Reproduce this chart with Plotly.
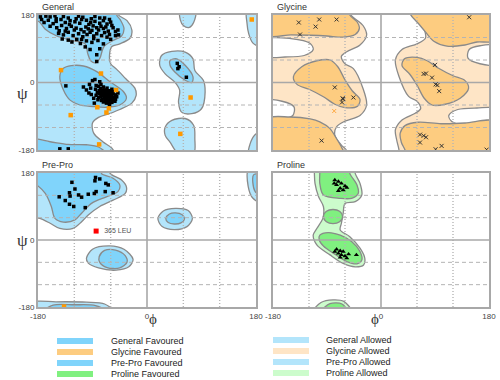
import plotly.graph_objects as go

# ---------------- data ----------------
TICKS = [-180, 0, 180]
GRID = [-120, -60, 60, 120]
PANEL_TITLES = ["General", "Glycine", "Pre-Pro", "Proline"]
LEG_LEFT = ["General Favoured", "Glycine Favoured", "Pre-Pro Favoured", "Proline Favoured"]
LEG_RIGHT = ["General Allowed", "Glycine Allowed", "Pre-Pro Allowed", "Proline Allowed"]

# General contours (phi, psi)
GEN_ALLOW_MAIN = [(-190, 190), (-47, 190), (-47, 180), (-33, 165), (-25, 140), (-28, 118), (-45, 103), (-58, 96),
                  (-62, 70), (-60, 50), (-50, 35), (-35, 10), (-20, -15), (-18, -35), (-25, -55), (-45, -72),
                  (-62, -83), (-80, -93), (-90, -108), (-88, -135), (-73, -158), (-58, -175), (-54, -190), (-190, -190)]
GEN_ALLOW_LA = [(24, 72), (41, 83), (63, 81), (76, 63), (79, 32), (93, 6), (96, -25), (90, -70), (74, -83),
                (57, -79), (52, -52), (54, -21), (46, 1), (30, 23), (21, 46)]
GEN_ALLOW_TOPMID = [(55, 190), (80, 190), (77, 160), (70, 147), (60, 152), (55, 167)]
GEN_ALLOW_BOTMID = [(30, -119), (41, -101), (63, -96), (77, -114), (79, -150), (77, -190), (52, -190), (38, -159), (30, -141)]
GEN_ALLOW_RTOP = [(165, 190), (190, 190), (190, 95), (175, 105), (168, 130), (165, 160)]
GEN_ALLOW_RBOT = [(168, -190), (190, -190), (190, -130), (178, -140), (170, -165)]
GEN_FAV_BETA = [(-190, 190), (-50, 190), (-50, 180), (-44, 167), (-38, 144), (-42, 124), (-56, 112), (-71, 96),
                (-78, 64), (-84, 53), (-93, 58), (-98, 78), (-102, 103), (-124, 112), (-149, 124), (-168, 142),
                (-178, 162), (-190, 170)]
GEN_FAV_BOT = [(-190, -190), (-190, -152), (-160, -158), (-130, -165), (-100, -166), (-80, -172), (-68, -190)]
GEN_FAV_ALPHA = [(-144, 16), (-138, 38), (-125, 45), (-105, 44), (-83, 29), (-61, 2), (-39, -24), (-34, -42),
                 (-45, -60), (-67, -66), (-89, -64), (-111, -60), (-127, -47), (-138, -20)]
GEN_FAV_LA = [(38, 59), (49, 63), (63, 46), (76, 15), (74, 0), (63, 6), (46, 28), (38, 46)]

# Glycine contours
GLY_WHITE_CENTER = [(-50, 190), (-50, 180), (-30, 152), (-24, 126), (-35, 100), (-57, 82), (-66, 70), (-60, 50),
                    (-46, 37), (-30, -16), (-24, -60), (-35, -88), (-60, -103), (-74, -118), (-77, -141),
                    (-66, -167), (-58, -180), (-58, -190),
                    (30, -190), (30, -180), (26, -152), (24, -126), (35, -100), (57, -82), (66, -70), (60, -50),
                    (46, -37), (30, 16), (24, 60), (35, 88), (60, 103), (74, 118), (72, 141), (60, 167),
                    (50, 180), (50, 190)]
GLY_WHITE_LA = [(-190, 115), (-150, 117), (-118, 104), (-113, 88), (-128, 72), (-160, 68), (-190, 70)]
GLY_WHITE_RA = [(190, -115), (150, -117), (118, -104), (113, -88), (128, -72), (160, -68), (190, -70)]
GLY_WHITE_LB = [(-190, -48), (-165, -50), (-145, -65), (-147, -88), (-165, -98), (-190, -98)]
GLY_WHITE_RB = [(190, 48), (165, 50), (145, 65), (147, 88), (165, 98), (190, 98)]
GLY_FAV_TL = [(-190, 190), (-52, 190), (-52, 180), (-40, 162), (-36, 145), (-43, 128), (-63, 121), (-90, 124),
              (-118, 126), (-150, 127), (-190, 126)]
GLY_FAV_TR = [(50, 190), (50, 180), (62, 158), (74, 135), (88, 110), (110, 97), (140, 100), (160, 108),
              (190, 112), (190, 190)]
GLY_FAV_BL = [(-190, -97), (-152, -92), (-118, -97), (-102, -105), (-85, -123), (-74, -150), (-66, -172),
              (-62, -190), (-190, -190)]
GLY_FAV_BR = [(190, -190), (40, -190), (40, -180), (34, -160), (32, -135), (40, -115), (62, -106), (100, -110),
              (140, -108), (190, -104)]
GLY_FAV_AR = [(-146, 15), (-132, 42), (-107, 58), (-85, 60), (-72, 42), (-60, 7), (-48, -22), (-35, -45),
              (-39, -63), (-60, -67), (-77, -58), (-96, -38), (-120, -18), (-140, -5)]
GLY_FAV_AL = [(146, -15), (132, -42), (107, -58), (85, -60), (72, -42), (60, -7), (48, 22), (35, 45), (39, 63),
              (60, 67), (77, 58), (96, 38), (120, 18), (140, 5)]

# Pre-Pro contours
PP_ALLOW_BETA = [(-190, 190), (-61, 190), (-61, 179), (-42, 161), (-34, 143), (-36, 125), (-56, 107), (-78, 90),
                 (-97, 67), (-108, 49), (-122, 31), (-144, 31), (-160, 45), (-177, 58), (-190, 62)]
PP_FAV_BETA = [(-190, 190), (-75, 190), (-75, 178), (-56, 166), (-45, 148), (-48, 130), (-67, 116), (-91, 99),
               (-108, 72), (-119, 54), (-138, 48), (-152, 58), (-158, 90), (-168, 125), (-180, 145), (-190, 155)]
PP_ALLOW_ALPHA = [(-100, -49), (-90, -25), (-62, -16), (-38, -25), (-23, -52), (-30, -72), (-51, -81), (-80, -75),
                  (-97, -62)]
PP_FAV_ALPHA = [(-79, -45), (-70, -28), (-52, -27), (-36, -42), (-33, -60), (-45, -75), (-66, -74), (-78, -60)]
PP_ALLOW_LA = [(18, 58), (27, 78), (47, 85), (68, 79), (75, 58), (66, 36), (45, 28), (25, 36)]
PP_FAV_LA = [(31, 58), (37, 70), (47, 73), (58, 68), (62, 58), (56, 46), (45, 43), (35, 47)]
PP_ALLOW_BOT = [(-190, -190), (-190, -168), (-150, -166), (-100, -167), (-70, -172), (-56, -190)]
PP_FAV_BOT = [(-170, -190), (-155, -175), (-120, -174), (-85, -176), (-68, -190)]
PP_ALLOW_RIGHT = [(168, 190), (190, 190), (190, 100), (175, 112), (167, 145)]
PP_FAV_RIGHT = [(176, 175), (190, 175), (190, 118), (178, 132)]

# Proline contours
PRO_ALLOW = [(-111, 190), (-43, 190), (-43, 179), (-35, 152), (-32, 121), (-43, 103), (-60, 98), (-63, 72),
             (-66, 45), (-68, 27), (-52, 9), (-35, -22), (-27, -49), (-29, -67), (-43, -72), (-63, -63),
             (-85, -40), (-107, -13), (-113, 13), (-107, 31), (-97, 58), (-96, 90), (-104, 116), (-110, 152),
             (-111, 179)]
PRO_ALLOW_BOT = [(-112, -190), (-100, -168), (-80, -161), (-62, -165), (-50, -190)]
PRO_FAV_TOP = [(-102, 190), (-52, 190), (-52, 179), (-40, 148), (-38, 125), (-49, 112), (-68, 112), (-96, 121),
               (-102, 152), (-102, 179)]
PRO_FAV_MID = [(-96, 63), (-91, 77), (-80, 82), (-69, 77), (-64, 63), (-69, 49), (-80, 44), (-91, 49)]
PRO_FAV_ALPHA = [(-102, 13), (-88, 20), (-68, 13), (-49, -4), (-35, -31), (-32, -54), (-40, -64), (-57, -58),
                 (-79, -36), (-96, -16), (-103, 0)]
PRO_FAV_BOT = [(-98, -190), (-85, -171), (-65, -172), (-57, -190)]

# Residue points (phi, psi)
GEN_POINTS = [
    (-167, 177), (-160, 175), (-152, 178), (-138, 176), (-113, 177), (-106, 174), (-86, 176), (-78, 172),
    (-174, 168), (-163, 166), (-150, 163), (-142, 168), (-135, 160), (-127, 165), (-119, 162), (-111, 158),
    (-100, 166), (-93, 160), (-86, 163), (-78, 158), (-72, 165), (-66, 156), (-60, 161),
    (-160, 150), (-149, 146), (-141, 152), (-133, 144), (-125, 150), (-117, 145), (-109, 141), (-101, 148),
    (-97, 143), (-91, 139), (-89, 151), (-83, 146), (-80, 140), (-72, 144), (-64, 137), (-56, 146), (-52, 136),
    (-58, 152), (-146, 131), (-138, 127), (-130, 134), (-122, 125), (-113, 130), (-106, 122), (-99, 128),
    (-94, 134), (-88, 124), (-83, 130), (-75, 125), (-70, 133), (-66, 121), (-47, 127), (-62, 128),
    (-130, 113), (-124, 108), (-116, 115), (-100, 111), (-91, 107), (-81, 112), (-72, 103), (-110, 104),
    (-102, 95), (-94, 88), (-78, 90), (-83, 74), (-83, 56),
    (-120, 140), (-128, 155), (-104, 135), (-96, 155), (-76, 150), (-68, 148), (-145, 138), (-155, 157),
    (-117, 170), (-108, 168), (-92, 170), (-70, 172), (-62, 168), (-135, 137), (-140, 116), (-88, 117),
    (-108, 115), (-60, 115), (-52, 125), (-48, 140), (-170, 160), (-176, 175), (-150, 170), (-130, 172),
    (-80, -10), (-76, -5), (-72, -12), (-85, -18), (-70, -20), (-66, -15), (-62, -22), (-58, -18), (-75, -25),
    (-68, -28), (-64, -30), (-60, -27), (-56, -30), (-52, -33), (-78, -30), (-72, -34), (-66, -36), (-62, -38),
    (-58, -35), (-54, -40), (-50, -38), (-70, -40), (-74, -44), (-66, -44), (-60, -46), (-56, -48), (-52, -45),
    (-63, -50), (-58, -53), (-68, -50), (-72, -52), (-80, -40), (-84, -34), (-76, -38), (-70, -32), (-64, -25),
    (-57, -24), (-61, -42), (-67, -40), (-73, -20), (-79, -22), (-65, -33), (-69, -45), (-55, -44), (-62, -56),
    (-75, -48), (-60, -32), (-66, -22), (-71, -26), (-77, -16), (-82, -27), (-58, -42), (-53, -50), (-64, -47),
    (-67, -55), (-59, -38), (-63, -35), (-69, -36), (-74, -31), (-81, -46),
    (-90, 5), (-86, 8), (-95, -5), (-100, -20), (-92, -32), (-88, -42), (-134, -9), (-105, -12), (-93, -15),
    (-78, 2), (-87, -55), (-62, -60), (-48, -28), (-84, -8), (-96, -28),
    (50, 51), (53, 42), (51, 37), (65, 14), (-144, -177), (-130, -177)]
GEN_OUTLIERS = [(-142, 33), (-76, 24), (-51, -20), (-82, -66), (-63, -69), (-67, -80), (-126, -87),
                (-79, -165), (72, -40), (55, -137), (173, 168)]
GLY_POINTS = [(-137, 160), (-103, 168), (-74, 168), (-109, 149), (-135, 128), (147, 174), (-77, -13),
              (-64, -42), (-63, -44), (-46, -40), (-65, -53), (-99, -155), (90, 47), (71, 23), (75, 24),
              (85, 13), (91, -5), (94, -7), (97, -23), (65, -139), (71, -142), (75, -146), (65, -160),
              (101, -169), (91, -178), (176, -179)]
GLY_OUTLIERS = [(-78, -76)]
PP_POINTS = [(-85, 168), (-78, 164), (-86, 159), (-124, 155), (-68, 152), (-64, 148), (-119, 137), (-128, 127),
             (-69, 130), (-56, 127), (-84, 130), (-87, 125), (-97, 123), (-113, 121), (-127, 118), (-145, 116),
             (-108, 115), (-135, 106), (-128, 96), (-121, 90), (-102, 87)]
PP_OUTLIER_RED = [(-84, 24)]
PP_OUTLIER_RED_LABEL = ["365 LEU"]
PP_OUTLIERS = [(-137, -179)]
PRO_POINTS = [(-77, 161), (-71, 157), (-66, 152), (-74, 148), (-60, 145), (-68, 139), (-63, 134), (-71, 132),
              (-78, 152), (-57, 141), (-74, -25), (-68, -29), (-63, -31), (-71, -36), (-66, -40), (-60, -43),
              (-54, -38), (-77, -31), (-68, -47), (-41, -40), (-57, -49)]

# ---------------- styles ----------------
W, H = 500, 380
GEN_FAV, GEN_ALW = "#80d4fb", "#b3e5fb"
GLY_FAV, GLY_ALW = "#fdcc80", "#fee5c6"
PRO_FAV, PRO_ALW = "#80f080", "#ccfccc"
OUTLINE = "#8a8a8a"
GRIDC = "#b4b4b4"
FONT = "Liberation Sans"
PANELS = [(38, 256, 15, 150), (273, 489, 15, 150), (38, 256, 173, 307), (273, 489, 173, 307)]

fig = go.Figure()


def axn(i):
    return ("x" if i == 1 else f"x{i}"), ("y" if i == 1 else f"y{i}")


def region(i, pts, fill, outline=True, shape="spline"):
    xa, ya = axn(i)
    xs = [p[0] for p in pts] + [pts[0][0]]
    ys = [p[1] for p in pts] + [pts[0][1]]
    fig.add_trace(go.Scatter(
        x=xs, y=ys, mode="lines", fill="toself", fillcolor=fill,
        line=dict(color=OUTLINE if outline else "rgba(0,0,0,0)", width=1.3, shape=shape, smoothing=0.9),
        xaxis=xa, yaxis=ya, hoverinfo="skip", showlegend=False))


def grid(i):
    xa, ya = axn(i)
    vx, vy, hx, hy = [], [], [], []
    for g in GRID:
        vx += [g, g, None]
        vy += [-180, 180, None]
        hx += [-180, 180, None]
        hy += [g, g, None]
    fig.add_trace(go.Scatter(x=vx, y=vy, mode="lines", line=dict(color=GRIDC, width=1.4, dash="1px,2px"),
                             xaxis=xa, yaxis=ya, hoverinfo="skip", showlegend=False))
    fig.add_trace(go.Scatter(x=hx, y=hy, mode="lines", line=dict(color=GRIDC, width=1, dash="4px,3px"),
                             xaxis=xa, yaxis=ya, hoverinfo="skip", showlegend=False))
    fig.add_trace(go.Scatter(x=[0, 0, None, -180, 180], y=[-180, 180, None, 0, 0], mode="lines",
                             line=dict(color="#a8a8a8", width=1.6),
                             xaxis=xa, yaxis=ya, hoverinfo="skip", showlegend=False))


def points(i, pts, color, symbol="square", size=3.5, lw=0, text=None):
    xa, ya = axn(i)
    fig.add_trace(go.Scatter(
        x=[p[0] for p in pts], y=[p[1] for p in pts],
        mode="markers+text" if text else "markers", text=text, textposition="middle right",
        textfont=dict(size=7, color="#555", family=FONT),
        marker=dict(symbol=symbol, size=size, color=color, line=dict(width=lw, color=color)),
        xaxis=xa, yaxis=ya, hoverinfo="skip", showlegend=False, cliponaxis=False))


# General
for r in [GEN_ALLOW_MAIN, GEN_ALLOW_LA, GEN_ALLOW_TOPMID, GEN_ALLOW_BOTMID, GEN_ALLOW_RTOP, GEN_ALLOW_RBOT]:
    region(1, r, GEN_ALW)
for r in [GEN_FAV_BETA, GEN_FAV_BOT, GEN_FAV_ALPHA, GEN_FAV_LA]:
    region(1, r, GEN_FAV)
grid(1)
points(1, GEN_POINTS, "black", size=3.5)
points(1, GEN_OUTLIERS, "#ff9900", size=4.5)

# Glycine
region(2, [(-190, -190), (190, -190), (190, 190), (-190, 190)], GLY_ALW, outline=False, shape="linear")
for r in [GLY_WHITE_CENTER, GLY_WHITE_LA, GLY_WHITE_RA, GLY_WHITE_LB, GLY_WHITE_RB]:
    region(2, r, "white")
for r in [GLY_FAV_TL, GLY_FAV_TR, GLY_FAV_BL, GLY_FAV_BR, GLY_FAV_AR, GLY_FAV_AL]:
    region(2, r, GLY_FAV)
grid(2)
points(2, GLY_POINTS, "#333333", symbol="x-thin-open", size=4, lw=1)
points(2, GLY_OUTLIERS, "#ffaa44", symbol="x-thin-open", size=4, lw=1)

# Pre-Pro
for r in [PP_ALLOW_BETA, PP_ALLOW_ALPHA, PP_ALLOW_LA, PP_ALLOW_BOT, PP_ALLOW_RIGHT]:
    region(3, r, GEN_ALW)
for r in [PP_FAV_BETA, PP_FAV_ALPHA, PP_FAV_LA, PP_FAV_BOT, PP_FAV_RIGHT]:
    region(3, r, GEN_FAV)
grid(3)
points(3, PP_POINTS, "black", size=3.5)
points(3, PP_OUTLIERS, "#ff9900", size=4.5)
points(3, PP_OUTLIER_RED, "#ff0000", size=5, text=["  " + t for t in PP_OUTLIER_RED_LABEL])

# Proline
for r in [PRO_ALLOW, PRO_ALLOW_BOT]:
    region(4, r, PRO_ALW)
for r in [PRO_FAV_TOP, PRO_FAV_MID, PRO_FAV_ALPHA, PRO_FAV_BOT]:
    region(4, r, PRO_FAV)
grid(4)
points(4, PRO_POINTS, "black", symbol="triangle-up", size=4.5)

# ---------------- layout ----------------
layout = dict(width=W, height=H, margin=dict(l=0, r=0, t=0, b=0, autoexpand=False), paper_bgcolor="white",
              plot_bgcolor="white", showlegend=False, font=dict(family=FONT, color="#333"))
for i, (x0, x1, y0, y1) in enumerate(PANELS, start=1):
    sfx = "" if i == 1 else str(i)
    common = dict(range=[-180, 180], showgrid=False, zeroline=False, showline=True, mirror=True,
                  linecolor="#a8a8a8", linewidth=2, ticks="", tickvals=TICKS, automargin=False,
                  ticktext=[str(t) for t in TICKS], tickfont=dict(size=8, color="#444", family=FONT),
                  fixedrange=True)
    layout["xaxis" + sfx] = dict(common, domain=[x0 / W, x1 / W], anchor="y" + sfx,
                                 showticklabels=i in (3, 4))
    layout["yaxis" + sfx] = dict(common, domain=[1 - y1 / H, 1 - y0 / H], anchor="x" + sfx,
                                 showticklabels=i in (1, 3), ticklabelstandoff=0)
fig.update_layout(**layout)

ann = []
for (x0, x1, y0, y1), t in zip(PANELS, PANEL_TITLES):
    ann.append(dict(x=(x0 + 2) / W, y=1 - (y0 - 8) / H, xref="paper", yref="paper", text=t, showarrow=False,
                    xanchor="left", yanchor="middle", font=dict(size=9, color="#333", family=FONT)))
for (x0, x1, y0, y1) in [PANELS[0], PANELS[2]]:
    ann.append(dict(x=15 / W, y=1 - ((y0 + y1) / 2) / H, xref="paper", yref="paper", text="ψ",
                    showarrow=False, font=dict(size=17, color="#333", family="Liberation Serif")))
for (x0, x1, y0, y1) in [PANELS[2], PANELS[3]]:
    ann.append(dict(x=((x0 + x1) / 2) / W, y=1 - 329 / H, xref="paper", yref="paper", text="ϕ",
                    showarrow=False, font=dict(size=15, color="#333", family="Liberation Serif")))

shapes = []
left_cols = [GEN_FAV, GLY_FAV, GEN_FAV, PRO_FAV]
right_cols = [GEN_ALW, GLY_ALW, GEN_ALW, PRO_ALW]
for k in range(4):
    yl = 341 + k * 11
    yr = 340 + k * 11
    shapes.append(dict(type="rect", xref="paper", yref="paper", x0=57 / W, x1=93 / W,
                       y0=1 - (yl + 3) / H, y1=1 - (yl - 3) / H, fillcolor=left_cols[k], line=dict(width=0)))
    shapes.append(dict(type="rect", xref="paper", yref="paper", x0=273 / W, x1=309 / W,
                       y0=1 - (yr + 3) / H, y1=1 - (yr - 3) / H, fillcolor=right_cols[k], line=dict(width=0)))
    ann.append(dict(x=109 / W, y=1 - yl / H, xref="paper", yref="paper", text=LEG_LEFT[k], showarrow=False,
                    xanchor="left", yanchor="middle", font=dict(size=9, color="#222", family=FONT)))
    ann.append(dict(x=324 / W, y=1 - yr / H, xref="paper", yref="paper", text=LEG_RIGHT[k], showarrow=False,
                    xanchor="left", yanchor="middle", font=dict(size=9, color="#222", family=FONT)))
fig.update_layout(annotations=ann, shapes=shapes)

fig.write_html("out.html", config={"displayModeBar": False},
               post_script="document.body.style.margin='0px';")
